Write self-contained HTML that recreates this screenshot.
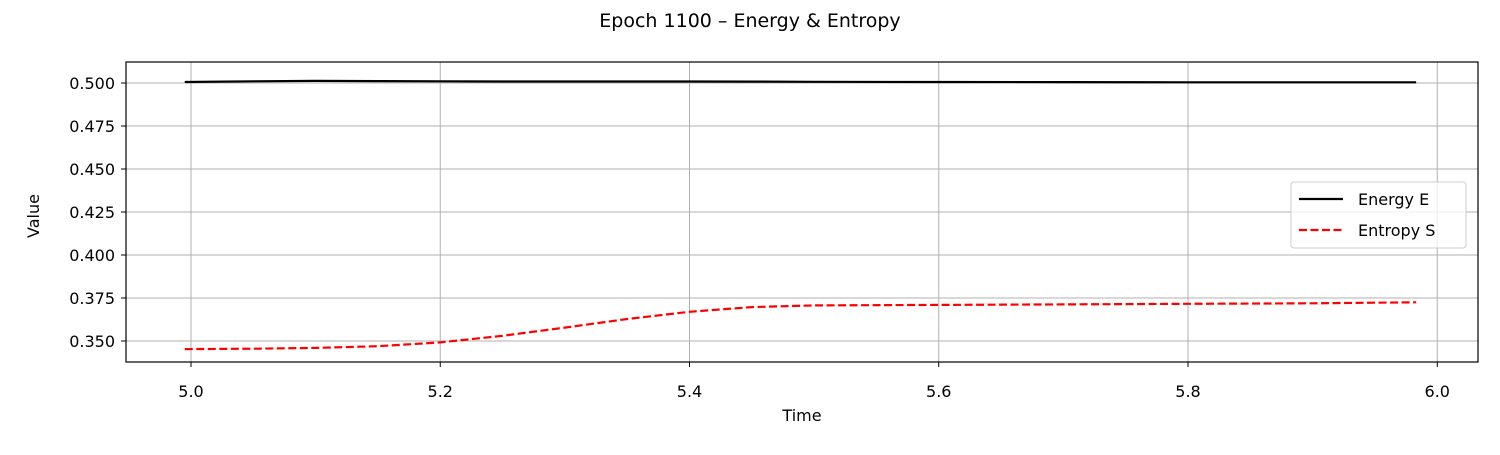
<!DOCTYPE html>
<html><head><meta charset="utf-8"><style>
body{margin:0;background:#fff;font-family:"Liberation Sans","DejaVu Sans",sans-serif;}
svg text{font-family:"DejaVu Sans","Liberation Sans",sans-serif;}
</style></head><body>
<svg id="chart" width="1500" height="450" xmlns="http://www.w3.org/2000/svg">
<text x="750" y="27" font-size="19" text-anchor="middle">Epoch 1100 – Energy &amp; Entropy</text>
<g id="grid"></g>
<g id="series"></g>
<rect x="126" y="62" width="1352" height="300" fill="none" stroke="#000" stroke-width="1.2"/>
<g id="ticks"></g>
<text x="802" y="421" font-size="16" text-anchor="middle">Time</text>
<text transform="translate(39,216) rotate(-90)" font-size="16" text-anchor="middle">Value</text>
<g>
<rect x="1291" y="182" width="175" height="66" rx="3" fill="#fff" fill-opacity="0.8" stroke="#ccc"/>
<line x1="1299" y1="199" x2="1343" y2="199" stroke="#000" stroke-width="2.2"/>
<text x="1358" y="205" font-size="16">Energy E</text>
<line x1="1299" y1="230" x2="1343" y2="230" stroke="red" stroke-width="2.2" stroke-dasharray="8,3.5"/>
<text x="1358" y="236" font-size="16">Entropy S</text>
</g>
</svg>
<script>
const times=[4.995,5.05,5.1,5.15,5.2,5.25,5.3,5.35,5.4,5.45,5.5,5.6,5.7,5.8,5.9,5.983];
const energy=[0.5006,0.5010,0.5012,0.5011,0.5010,0.5009,0.5009,0.5009,0.5009,0.5008,0.5007,0.5006,0.5005,0.5004,0.5004,0.5004];
const entropy=[0.3453,0.3455,0.3460,0.3470,0.3492,0.3530,0.3578,0.3628,0.3670,0.3697,0.3707,0.3710,0.3713,0.3716,0.3719,0.3725];
const xTicks=[5.0,5.2,5.4,5.6,5.8,6.0];
const yTicks=[0.350,0.375,0.400,0.425,0.450,0.475,0.500];
const NS="http://www.w3.org/2000/svg";
const X=v=>191+(v-5.0)*1246.25;
const Y=v=>341-(v-0.35)*1720;
function mk(t,a,p){const e=document.createElementNS(NS,t);for(const k in a)e.setAttribute(k,a[k]);p.appendChild(e);return e;}
const grid=document.getElementById('grid'),ticks=document.getElementById('ticks'),ser=document.getElementById('series');
xTicks.forEach(v=>{const x=X(v);
 const g=mk('line',{x1:x,x2:x,y1:62,y2:362,stroke:'#b0b0b0','stroke-width':1},grid);
 
 
 mk('line',{x1:x,x2:x,y1:362,y2:367,stroke:'#000'},ticks);
 const t=mk('text',{x:x,y:397,'font-size':16,'text-anchor':'middle'},ticks);t.textContent=v.toFixed(1);
 
 });
yTicks.forEach(v=>{const y=Y(v);
 const g=mk('line',{x1:126,x2:1478,y1:y,y2:y,stroke:'#b0b0b0','stroke-width':1},grid);
 
 
 mk('line',{x1:121,x2:126,y1:y,y2:y,stroke:'#000'},ticks);
 const t=mk('text',{x:115,y:y+6,'font-size':16,'text-anchor':'end'},ticks);t.textContent=v.toFixed(3);
 
 });
function path(vals){return times.map((t,i)=>(i?'L':'M')+X(t).toFixed(1)+','+Y(vals[i]).toFixed(1)).join(' ');}
const pe=mk('path',{d:path(energy),fill:'none',stroke:'#000','stroke-width':2.2},ser);


const ps=mk('path',{d:path(entropy),fill:'none',stroke:'red','stroke-width':2.2,'stroke-dasharray':'8,3.5'},ser);


</script>
</body></html>
